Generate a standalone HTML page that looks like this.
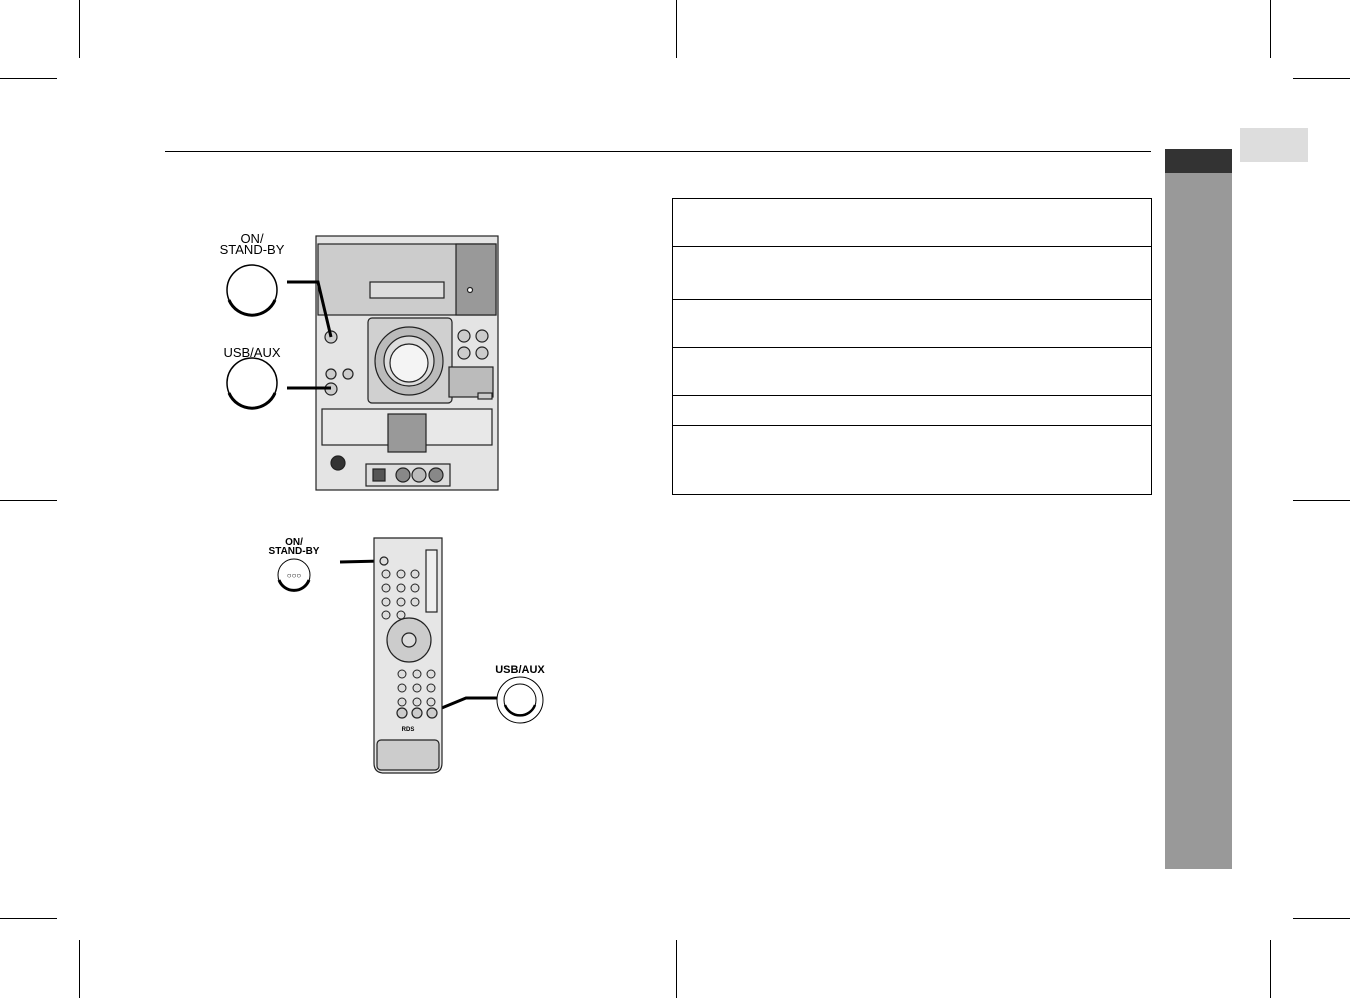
<!DOCTYPE html>
<html><head><style>
body{margin:0;background:#fff;width:1350px;height:998px;overflow:hidden;font-family:"Liberation Sans",sans-serif}
svg{position:absolute;left:0;top:0}
</style></head><body>
<svg width="1350" height="998" viewBox="0 0 1350 998" font-family="Liberation Sans, sans-serif">
<g stroke="#000" stroke-width="1">
<line x1="79.5" y1="0" x2="79.5" y2="58"/><line x1="676.5" y1="0" x2="676.5" y2="58"/><line x1="1270.5" y1="0" x2="1270.5" y2="58"/>
<line x1="79.5" y1="940" x2="79.5" y2="998"/><line x1="676.5" y1="940" x2="676.5" y2="998"/><line x1="1270.5" y1="940" x2="1270.5" y2="998"/>
<line x1="0" y1="78.5" x2="57" y2="78.5"/><line x1="1293" y1="78.5" x2="1350" y2="78.5"/>
<line x1="0" y1="500.5" x2="57" y2="500.5"/><line x1="1293" y1="500.5" x2="1350" y2="500.5"/>
<line x1="0" y1="918.5" x2="57" y2="918.5"/><line x1="1293" y1="918.5" x2="1350" y2="918.5"/>
<line x1="165" y1="151.5" x2="1151" y2="151.5"/>
</g>
<rect x="1165" y="149" width="67" height="720" fill="#999"/>
<rect x="1165" y="149" width="67" height="24" fill="#333"/>
<rect x="1240" y="128" width="68" height="34" fill="#ddd"/>
<g fill="none" stroke="#000" stroke-width="1">
<rect x="672.5" y="198.5" width="479" height="296"/>
<line x1="672" y1="246.5" x2="1151" y2="246.5"/><line x1="672" y1="299.5" x2="1151" y2="299.5"/>
<line x1="672" y1="347.5" x2="1151" y2="347.5"/><line x1="672" y1="395.5" x2="1151" y2="395.5"/>
<line x1="672" y1="425.5" x2="1151" y2="425.5"/>
</g>
<!-- main unit -->
<g stroke="#222" stroke-width="1.2">
<rect x="316" y="236" width="182" height="254" fill="#e4e4e4"/>
<rect x="318" y="244" width="178" height="71" fill="#ccc"/>
<rect x="456" y="244" width="40" height="71" fill="#999"/>
<rect x="370" y="282" width="74" height="16" fill="#ddd"/>
<circle cx="470" cy="290" r="2.5" fill="#fff"/>
<rect x="368" y="318" width="84" height="85" fill="#d0d0d0" rx="4"/>
<circle cx="409" cy="361" r="34" fill="#bbb"/>
<circle cx="409" cy="361" r="25" fill="#ddd"/>
<circle cx="409" cy="363" r="19" fill="#f4f4f4"/>
<circle cx="331" cy="337" r="6" fill="#ccc"/><circle cx="331" cy="389" r="6" fill="#ccc"/>
<circle cx="331" cy="374" r="5" fill="#ccc"/><circle cx="348" cy="374" r="5" fill="#ccc"/>
<circle cx="464" cy="336" r="6" fill="#ccc"/><circle cx="482" cy="336" r="6" fill="#ccc"/>
<circle cx="464" cy="353" r="6" fill="#ccc"/><circle cx="482" cy="353" r="6" fill="#ccc"/>
<rect x="449" y="367" width="44" height="30" fill="#bbb"/>
<rect x="478" y="393" width="14" height="6" fill="#ccc"/>
<rect x="322" y="409" width="170" height="36" fill="#e8e8e8"/>
<rect x="388" y="414" width="38" height="38" fill="#999"/>
<circle cx="338" cy="463" r="7" fill="#333"/>
<rect x="366" y="464" width="84" height="22" fill="#ddd"/>
<circle cx="403" cy="475" r="7" fill="#888"/><circle cx="419" cy="475" r="7" fill="#bbb"/><circle cx="436" cy="475" r="7" fill="#888"/>
<rect x="373" y="469" width="12" height="12" fill="#555"/>
</g>
<text x="252" y="243" font-size="13" text-anchor="middle">ON/</text>
<text x="252" y="254" font-size="13" text-anchor="middle">STAND-BY</text>
<text x="252" y="357" font-size="13" text-anchor="middle">USB/AUX</text>
<g stroke="#000" fill="#fff">
<circle cx="252" cy="290" r="25" stroke-width="1.5"/><path d="M229 300 a25 25 0 0 0 46 0" fill="none" stroke-width="3"/>
<circle cx="252" cy="383" r="25" stroke-width="1.5"/><path d="M229 393 a25 25 0 0 0 46 0" fill="none" stroke-width="3"/>
</g>
<g stroke="#000" stroke-width="3" fill="none">
<polyline points="287,282 318,282 331,337"/>
<line x1="287" y1="388" x2="331" y2="388"/>
<line x1="340" y1="562" x2="384" y2="561"/>
<polyline points="497,698 466,698 432,712"/>
</g>
<!-- remote -->
<g stroke="#222" stroke-width="1.2">
<path d="M374 538 h68 v225 q0 10 -10 10 h-48 q-10 0 -10 -10z" fill="#e6e6e6"/>
<rect x="377" y="740" width="62" height="30" fill="#ccc" rx="4"/>
<circle cx="384" cy="561" r="4" fill="#ddd"/>
<circle cx="409" cy="640" r="22" fill="#ccc"/><circle cx="409" cy="640" r="7" fill="#ddd"/>
<circle cx="432" cy="713" r="5" fill="#ccc"/><circle cx="402" cy="713" r="5" fill="#ccc"/><circle cx="417" cy="713" r="5" fill="#ccc"/>
<rect x="426" y="550" width="11" height="62" fill="#eee"/>
</g>
<g fill="#ddd" stroke="#222">
<circle cx="386" cy="574" r="4"/><circle cx="401" cy="574" r="4"/><circle cx="415" cy="574" r="4"/>
<circle cx="386" cy="588" r="4"/><circle cx="401" cy="588" r="4"/><circle cx="415" cy="588" r="4"/>
<circle cx="386" cy="602" r="4"/><circle cx="401" cy="602" r="4"/><circle cx="415" cy="602" r="4"/>
<circle cx="386" cy="615" r="4"/><circle cx="401" cy="615" r="4"/>
<circle cx="402" cy="674" r="4"/><circle cx="417" cy="674" r="4"/><circle cx="431" cy="674" r="4"/>
<circle cx="402" cy="688" r="4"/><circle cx="417" cy="688" r="4"/><circle cx="431" cy="688" r="4"/>
<circle cx="402" cy="702" r="4"/><circle cx="417" cy="702" r="4"/><circle cx="431" cy="702" r="4"/>
</g>
<text x="408" y="731" font-size="6" font-weight="bold" text-anchor="middle">RDS</text>
<text x="294" y="545" font-size="10" font-weight="bold" text-anchor="middle">ON/</text>
<text x="294" y="554" font-size="10" font-weight="bold" text-anchor="middle">STAND-BY</text>
<text x="520" y="673" font-size="11" font-weight="bold" text-anchor="middle">USB/AUX</text>
<g stroke="#000" fill="#fff">
<circle cx="294" cy="575" r="16"/><path d="M279 580 a16 16 0 0 0 30 0" fill="none" stroke-width="3"/>
<circle cx="520" cy="700" r="23"/><circle cx="520" cy="700" r="16"/><path d="M505 705 a16 16 0 0 0 30 0" fill="none" stroke-width="2.5"/>
</g>
<text x="294" y="578" font-size="8" text-anchor="middle">○○○</text>
</svg>
</body></html>
